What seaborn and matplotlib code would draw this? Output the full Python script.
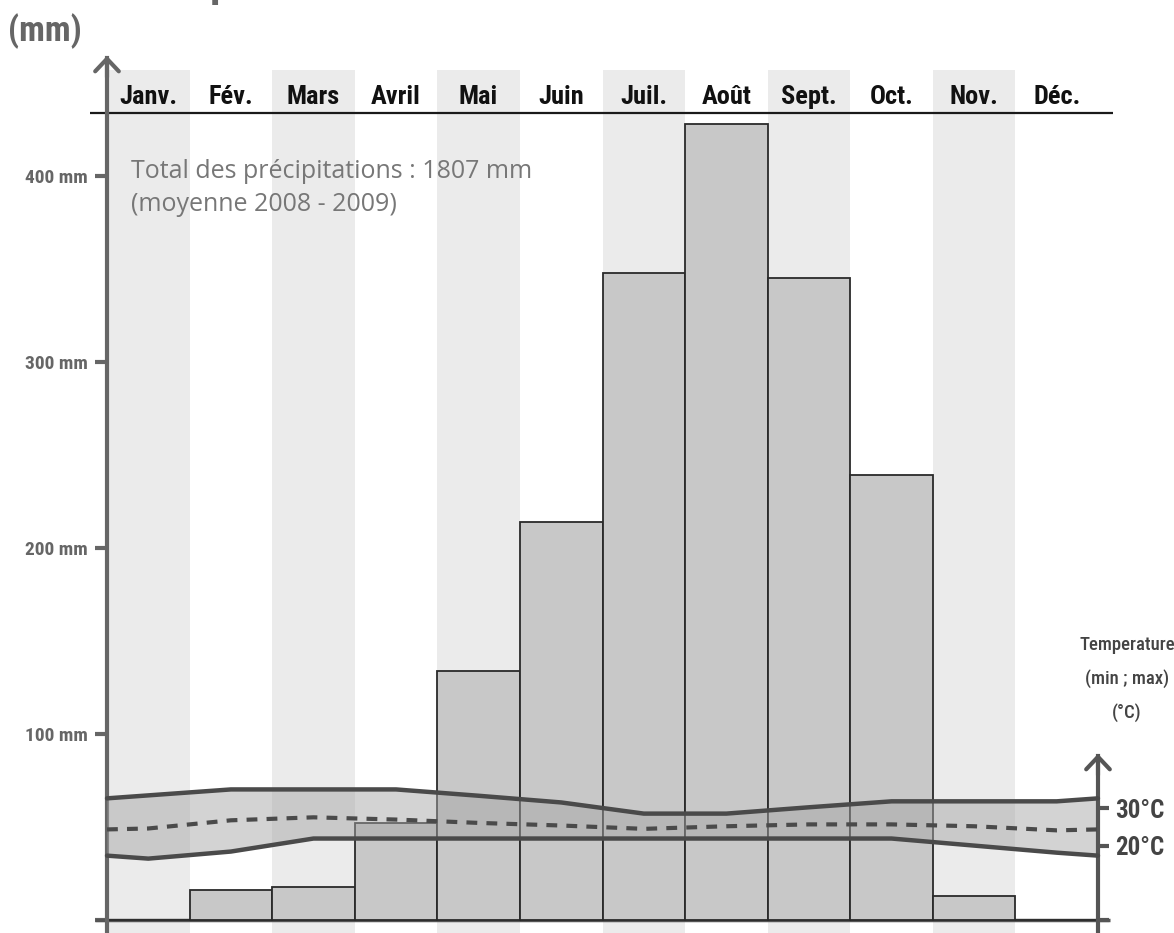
import numpy as np
import pandas as pd
import seaborn as sns
from matplotlib import pyplot as plt

months = ["Janv.", "Fév.", "Mars", "Avril", "Mai", "Juin",
          "Juil.", "Août", "Sept.", "Oct.", "Nov.", "Déc."]
precip_mm = [0, 16, 18, 52, 134, 214, 348, 428, 345, 239, 13, 0]
temp_max = [33.5, 35.1, 35.1, 35.1, 33.4, 31.6, 28.6, 28.6, 30.3, 31.9, 31.9, 31.9]
temp_min = [16.5, 18.4, 21.9, 21.9, 21.9, 21.9, 21.9, 21.9, 21.9, 21.9, 20.0, 18.1]
temp_mean = [24.6, 26.8, 27.6, 27.0, 26.1, 25.4, 24.5, 25.2, 25.7, 25.7, 25.2, 24.1]
mm_ticks = [0, 100, 200, 300, 400]
deg_ticks = [0, 20, 30]

sns.set_style("white")
plt.rcParams['font.family'] = ['Roboto Condensed', 'Roboto', 'DejaVu Sans']

W, H = 1174, 933
fig = plt.figure(figsize=(W / 100, H / 100), dpi=100)
ax = fig.add_axes([0, 0, 1, 1])

# pixel layout of the original drawing
X0, X1 = 107, 1098
Y0, PXMM = 920, 1.86
MW = (X1 - X0) / 12


def px_x(px):
    return -0.5 + (px - X0) / MW


def px_y(px):
    return (Y0 - px) / PXMM


xlim = (px_x(0), px_x(W))
ylim = (px_y(H), px_y(0))

# alternate month shading
for i in range(0, 12, 2):
    ax.axvspan(i - 0.5, i + 0.5, ymin=0, ymax=(H - 70) / H, color="#ebebeb", lw=0, zorder=0)

df = pd.DataFrame({"mois": months, "mm": precip_mm})
sns.barplot(data=df, x="mois", y="mm", order=months, ax=ax, color="#c8c8c8",
            saturation=1, width=1, edgecolor="#2a2a2a", linewidth=1.3, zorder=2)

ax.hlines(0, px_x(95), px_x(1110), color="#555555", lw=2.5, zorder=1)
ax.hlines(px_y(113), px_x(90), px_x(1113), color="#1a1a1a", lw=1.6, zorder=3)

for i, m in enumerate(months):
    ax.text(i, px_y(97), m, ha="center", va="center", fontsize=19, weight="bold", color="#111111")

total = sum(precip_mm)
ax.text(px_x(131), px_y(188), f"Total des précipitations : {total} mm\n(moyenne 2008 - 2009)",
        ha="left", va="center", fontsize=18, color="#777777", linespacing=1.4,
        family=["Open Sans", "DejaVu Sans"])

ax.set_xlim(xlim)
ax.set_ylim(ylim)
ax.set_xlabel("")
ax.set_ylabel("")
ax.set_xticks([])
for s in ["top", "right", "bottom"]:
    ax.spines[s].set_visible(False)
ax.spines["left"].set_position(("data", -0.5))
ax.spines["left"].set_bounds(ylim[0], px_y(58))
ax.spines["left"].set_color("#666666")
ax.spines["left"].set_linewidth(3)
ax.spines["left"].set_zorder(5)
ax.set_yticks(mm_ticks)
ax.set_yticklabels([""] + [f"{v} mm" for v in mm_ticks[1:]])
ax.tick_params(axis="y", direction="out", length=9, width=3, color="#666666",
               labelcolor="#666666", labelsize=14, pad=5)
for lab in ax.get_yticklabels():
    lab.set_fontweight("bold")
ax.annotate("", xy=(-0.5, px_y(53)), xytext=(-0.5, px_y(80)),
            arrowprops=dict(arrowstyle="->,head_length=0.9,head_width=0.85", lw=3, color="#666666"))

# temperature on its own scale: 1 degC = 2 mm
ax2 = ax.twinx()
ax2.set_ylim(ylim[0] / 2, ylim[1] / 2)
ax2.set_xlim(xlim)

tx = [-0.5] + list(range(12)) + [11.5]


def wrap(vals):
    edge = (vals[0] + vals[-1]) / 2
    return [edge] + list(vals) + [edge]


tdf = pd.DataFrame({"x": tx, "max": wrap(temp_max), "min": wrap(temp_min), "mean": wrap(temp_mean)})
ax2.fill_between(tdf["x"], tdf["min"], tdf["max"], color=(167 / 255,) * 3, alpha=0.49, lw=0, zorder=1)
sns.lineplot(data=tdf, x="x", y="max", ax=ax2, color="#4a4a4a", lw=3.2, zorder=3)
sns.lineplot(data=tdf, x="x", y="min", ax=ax2, color="#4a4a4a", lw=3.2, zorder=3)
sns.lineplot(data=tdf, x="x", y="mean", ax=ax2, color="#4a4a4a", lw=3.0, zorder=3,
             dashes=False).lines[-1].set_dashes([2.6, 2.2])
ax2.set_xlabel("")
ax2.set_ylabel("")
for s in ["top", "left", "bottom"]:
    ax2.spines[s].set_visible(False)
ax2.spines["right"].set_position(("data", 11.5))
ax2.spines["right"].set_bounds(ylim[0] / 2, px_y(756) / 2)
ax2.spines["right"].set_color("#555555")
ax2.spines["right"].set_linewidth(3)
ax2.set_yticks(deg_ticks)
ax2.set_yticklabels([""] + [f"{v}°C" for v in deg_ticks[1:]])
ax2.tick_params(axis="y", direction="out", length=8, width=3, color="#555555",
                labelcolor="#444444", labelsize=18, pad=4)
for lab in ax2.get_yticklabels():
    lab.set_fontweight("bold")
ax2.annotate("", xy=(11.5, px_y(751) / 2), xytext=(11.5, px_y(778) / 2),
             arrowprops=dict(arrowstyle="->,head_length=0.9,head_width=0.85", lw=3, color="#555555"))

fig.text(1127 / W, 1 - 636 / H, "Temperature\n(min ; max)\n(°C)", ha="center", va="top",
         fontsize=13.5, weight="medium", color="#444444", linespacing=2.0)
fig.text(8 / W, 1 - 31 / H, "(mm)", ha="left", va="center", fontsize=25, weight="bold", color="#666666")
fig.text(124 / W, 1 + 4 / H, "Précipitations", ha="left", va="baseline", fontsize=30,
         weight="bold", color="#666666")

fig.savefig("out.png", dpi=100)
